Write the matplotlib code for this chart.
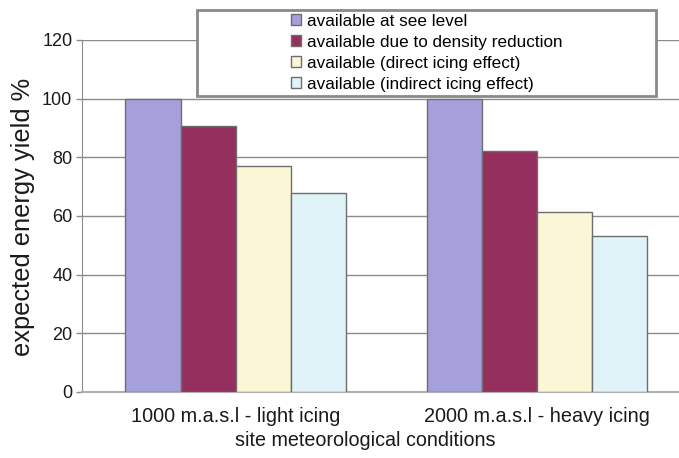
import matplotlib
matplotlib.use("Agg")
import matplotlib.pyplot as plt
from matplotlib.patches import Rectangle, Patch
import numpy as np

plt.rcParams['font.family'] = ['Liberation Sans', 'DejaVu Sans']

categories = ["1000 m.a.s.l - light icing", "2000 m.a.s.l - heavy icing"]
series_names = ["available at see level",
                "available due to density reduction",
                "available (direct icing effect)",
                "available (indirect icing effect)"]
sea_level = [100, 100]
density = [90.8, 82.0]
direct_icing = [76.9, 61.4]
indirect_icing = [67.8, 53.3]
yticks = [0, 20, 40, 60, 80, 100, 120]

colors = ["#A59FDC", "#952F5D", "#FBF6D6", "#E0F3F8"]
edge = "#6E6E6E"
grid = "#8C8C8C"

W, H = 679, 458
fig = plt.figure(figsize=(W / 100, H / 100), dpi=100)
ax_l, ax_r, ax_b, ax_t = 82, 688, 392, 40
ax = fig.add_axes([ax_l / W, (H - ax_b) / H, (ax_r - ax_l) / W, (ax_b - ax_t) / H])

x = np.arange(len(categories))
bw = 0.1824
data = [sea_level, density, direct_icing, indirect_icing]
for i, (vals, c) in enumerate(zip(data, colors)):
    ax.bar(x + (i - 1.5) * bw, vals, width=bw, color=c, edgecolor=edge, linewidth=1.0, zorder=3)

ax.set_xlim(-0.509, 1.5)
ax.set_ylim(0, 120)
ax.set_yticks(yticks)
ax.set_xticks(x)
ax.set_xticklabels(categories, fontsize=14.3)
ax.tick_params(axis='x', length=0, pad=11, colors='#1a1a1a')
ax.tick_params(axis='y', length=4, width=1, color=grid, pad=3, labelsize=13, labelcolor='#1a1a1a')
for yv in yticks[1:]:
    ax.axhline(yv, color=grid, linewidth=1.0, zorder=1)
for s in ['top', 'right']:
    ax.spines[s].set_visible(False)
ax.spines['left'].set_color(grid)
ax.spines['bottom'].set_color('#B0B0B0')
ax.spines['bottom'].set_linewidth(1.5)

ax.set_ylabel("expected energy yield %", fontsize=18.3, color='#1a1a1a')
ax.yaxis.set_label_coords((35 - ax_l) / (ax_r - ax_l), (ax_b - 217) / (ax_b - ax_t))
ax.set_xlabel("site meteorological conditions", fontsize=14.2, color='#1a1a1a')
ax.xaxis.set_label_coords((365 - ax_l) / (ax_r - ax_l), (ax_b - 431) / (ax_b - ax_t))

# legend frame
lx0, lx1, ly0, ly1 = 197, 656, 10, 96
rect = Rectangle((lx0 / W, (H - ly1) / H), (lx1 - lx0) / W, (ly1 - ly0) / H,
                 transform=fig.transFigure, facecolor='white', edgecolor='#8A8A8A',
                 linewidth=2.0, zorder=4)
fig.add_artist(rect)
handles = [Patch(facecolor=c, edgecolor=edge, linewidth=1.0) for c in colors]
leg = fig.legend(handles, series_names, loc='center',
                 bbox_to_anchor=((lx0 + lx1) / 2 / W, (H - 52.7) / H),
                 frameon=False, fontsize=12.3, handlelength=0.6, handleheight=0.6,
                 handletextpad=0.35, labelspacing=0.35, borderpad=0)
leg.set_zorder(5)

fig.savefig("out.png", dpi=100)
